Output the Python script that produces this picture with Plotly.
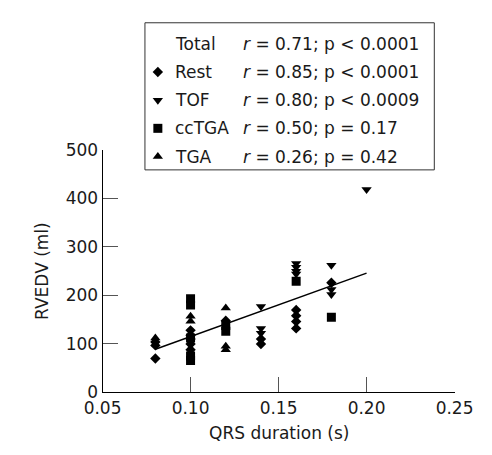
import plotly.graph_objects as go

# ---- data ----
rest_x = [0.08, 0.08, 0.08, 0.10, 0.10, 0.10, 0.10, 0.10, 0.12, 0.14, 0.14,
          0.16, 0.16, 0.16, 0.16, 0.18]
rest_y = [70, 97, 104, 128, 118, 110, 100, 88, 148, 110, 100,
          170, 158, 146, 132, 226]
tof_x = [0.14, 0.14, 0.14, 0.16, 0.16, 0.16, 0.16, 0.18, 0.18, 0.18, 0.20]
tof_y = [177, 132, 122, 266, 258, 250, 244, 262, 212, 202, 418]
cctga_x = [0.10, 0.10, 0.10, 0.10, 0.10, 0.12, 0.12, 0.16, 0.18]
cctga_y = [193, 180, 112, 75, 66, 138, 126, 229, 155]
tga_x = [0.08, 0.10, 0.10, 0.12, 0.12, 0.12]
tga_y = [112, 157, 147, 174, 95, 88]
fit_x = [0.08, 0.20]
fit_y = [89, 246]

legend_names = ["Total", "Rest", "TOF", "ccTGA", "TGA"]
legend_r = ["0.71", "0.85", "0.80", "0.50", "0.26"]
legend_p = ["&lt; 0.0001", "&lt; 0.0001", "&lt; 0.0009", "= 0.17", "= 0.42"]

x_ticks = [0.05, 0.10, 0.15, 0.20, 0.25]
x_ticklabels = ["0.05", "0.10", "0.15", "0.20", "0.25"]
y_ticks = [0, 100, 200, 300, 400, 500]

FONT = "DejaVu Sans"
TXT = "#1a1a1a"

# page body has an 8px margin: work in reference pixels and shift
OFF = 8
W, H = 492 - OFF, 455 - OFF

def px(x):
    return (x - OFF) / W

def py(y):
    return 1 - (y - OFF) / H

X0, X1 = 90, 472     # plot area, reference pixels
Y0, Y1 = 146, 400

fig = go.Figure()

fig.add_trace(go.Scatter(x=fit_x, y=fit_y, mode="lines",
                         line=dict(color="black", width=1.5),
                         showlegend=False, hoverinfo="skip"))

series = [
    (rest_x, rest_y, "diamond", 8),
    (tof_x, tof_y, "triangle-down", 9),
    (cctga_x, cctga_y, "square", 9),
    (tga_x, tga_y, "triangle-up", 9),
]
for xs, ys, sym, sz in series:
    fig.add_trace(go.Scatter(x=xs, y=ys, mode="markers",
                             marker=dict(symbol=sym, size=sz, color="black",
                                         line=dict(width=0)),
                             showlegend=False))

# legend glyphs on a full-page pixel axis
leg_rows = [35, 64.5, 94, 123.5, 153]
leg_marker_x = 150
for (xs, ys, sym, sz), ry in zip(series, leg_rows[1:]):
    fig.add_trace(go.Scatter(x=[leg_marker_x], y=[ry], mode="markers",
                             xaxis="x2", yaxis="y2",
                             marker=dict(symbol=sym, size=sz, color="black"),
                             showlegend=False, hoverinfo="skip"))

annotations = []
for name, r, p, ry in zip(legend_names, legend_r, legend_p, leg_rows):
    annotations.append(dict(x=px(166), y=py(ry), xref="paper", yref="paper",
                            text=name, showarrow=False, xanchor="left",
                            yanchor="middle", font=dict(family=FONT, size=17, color=TXT)))
    annotations.append(dict(x=px(240), y=py(ry), xref="paper", yref="paper",
                            text=f"<i>r</i> = {r}; p {p}", showarrow=False,
                            xanchor="left", yanchor="middle",
                            font=dict(family=FONT, size=17, color=TXT)))

annotations.append(dict(x=px((X0 + X1) / 2), y=py(442), xref="paper", yref="paper",
                        text="QRS duration (s)", showarrow=False,
                        xanchor="center", yanchor="middle",
                        font=dict(family=FONT, size=17, color=TXT)))
annotations.append(dict(x=px(24), y=py((Y0 + Y1) / 2), xref="paper", yref="paper",
                        text="RVEDV (ml)", showarrow=False, textangle=-90,
                        xanchor="center", yanchor="middle",
                        font=dict(family=FONT, size=17, color=TXT)))

fig.update_layout(
    width=W, height=H,
    margin=dict(l=0, r=0, t=0, b=0),
    paper_bgcolor="white", plot_bgcolor="rgba(0,0,0,0)",
    showlegend=False,
    font=dict(family=FONT, size=17, color=TXT),
    xaxis=dict(domain=[px(X0), px(X1)], range=[0.05, 0.25],
               tickvals=x_ticks, ticktext=x_ticklabels,
               ticks="inside", ticklen=15, tickcolor="#555", tickwidth=1,
               showline=True, linecolor="black", linewidth=1,
               showgrid=False, zeroline=False, mirror=False,
               tickfont=dict(family=FONT, size=17, color=TXT)),
    yaxis=dict(domain=[py(Y1), py(Y0)], range=[0, 500],
               tickvals=y_ticks,
               ticks="inside", ticklen=15, tickcolor="#555", tickwidth=1,
               showline=True, linecolor="black", linewidth=1,
               showgrid=False, zeroline=False, mirror=False,
               tickfont=dict(family=FONT, size=17, color=TXT)),
    xaxis2=dict(domain=[0, 1], range=[OFF, OFF + W], anchor="y2",
                visible=False, fixedrange=True),
    yaxis2=dict(domain=[0, 1], range=[OFF + H, OFF], anchor="x2",
                visible=False, fixedrange=True),
    shapes=[dict(type="rect", xref="paper", yref="paper",
                 x0=px(136), x1=px(450), y0=py(167), y1=py(13),
                 line=dict(color="#333", width=1), fillcolor="rgba(0,0,0,0)")],
    annotations=annotations,
)

fig.write_html("out.html")
